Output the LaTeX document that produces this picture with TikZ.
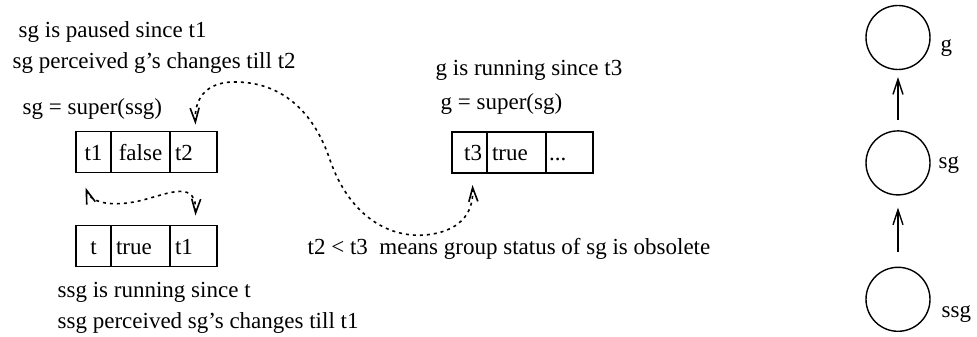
\documentclass[tikz,border=0pt]{standalone}
\usepackage{fontspec}
\setmainfont{Liberation Serif}
\usetikzlibrary{positioning}
\usetikzlibrary{arrows.meta}

\begin{document}
\begin{tikzpicture}[x=1pt, y=-1pt, line width=1.4pt, font=\fontsize{23}{28}\selectfont,
            >={Straight Barb[length=14pt, width=9pt]},
            txt/.style = {inner sep=0pt, anchor=base west},
            cell/.style = {draw, outer sep=0pt, minimum height=41pt, inner ysep=0pt, inner xsep=5pt, text height=16pt, text depth=0pt},
            ca/.style = {cell, text width=25pt},
            cb/.style = {cell, text width=49pt},
            cc/.style = {cell, text width=37pt},
            grp/.style = {draw, circle, minimum size=64pt, inner sep=0pt},
            link/.style = {line width=1.6pt, dash pattern=on 3pt off 4pt, <->},
            up/.style = {-{Straight Barb[length=15pt, width=10pt]}}]
            \useasboundingbox (0,0) rectangle (977,337);
            \node[txt] (l1) at (18,38) {sg is paused since t1};
            \node[txt] (l2) at (12,68) {sg perceived g’s changes till t2};
            \node[txt] (l3) at (22,114) {sg = super(ssg)};
            \node[ca, align=center] (sgA) at (93.5,152) {t1};
            \node[cb, align=center, right=0pt of sgA] (sgB) {false};
            \node[cc, align=left, right=0pt of sgB] (sgC) {t2};
            \node[ca, align=center] (ssgA) at (93.5,246) {t};
            \node[cb, align=left, right=0pt of ssgA] (ssgB) {true};
            \node[cc, align=left, right=0pt of ssgB] (ssgC) {t1};
            \node[txt] (l4) at (57,297) {ssg is running since t};
            \node[txt] (l5) at (57,328) {ssg perceived sg’s changes till t1};
            \node[txt] (l6) at (435,75) {g is running since t3};
            \node[txt] (l7) at (440,110) {g = super(sg)};
            \node[ca, align=right] (gA) at (469.5,152.5) {t3};
            \node[cb, align=left, right=0pt of gA] (gB) {true};
            \node[cc, align=left, inner xsep=3pt, text width=41pt, right=0pt of gB] (gC) {...};
            \node[txt, anchor=base east] (l8) at (711,254) {t2 < t3\ \ means group status of sg is obsolete};
            \node[grp] (g) at (898,37.5) {};
            \node[grp, below=60pt of g] (sg) {};
            \node[grp, below=71pt of sg] (ssg) {};
            \node[txt] (gl) at (940,52) {g};
            \node[txt] (sgl) at (938,168) {sg};
            \node[txt] (ssgl) at (941,317) {ssg};
            \draw[up, shorten <=10pt, shorten >=7pt] (sg) -- (g);
            \draw[up, shorten <=15pt, shorten >=12pt] (ssg) -- (sg);
            \draw[link] ([xshift=2pt, yshift=7pt]sgC.north) .. controls (194,95) and (210,81) .. (237,82)
                .. controls (285,83) and (315,115) .. (330,160)
                .. controls (348,212) and (385,238) .. (425,235)
                .. controls (458,232) and (474,215) .. ([xshift=3pt, yshift=-12pt]gA.south);
            \draw[link] ([xshift=-8pt, yshift=-15pt]sgA.south) .. controls (92,206) and (120,206) .. (143,200)
                .. controls (170,193) and (197,180) .. ([xshift=2pt, yshift=10pt]ssgC.north);
        \end{tikzpicture}
\end{document}
